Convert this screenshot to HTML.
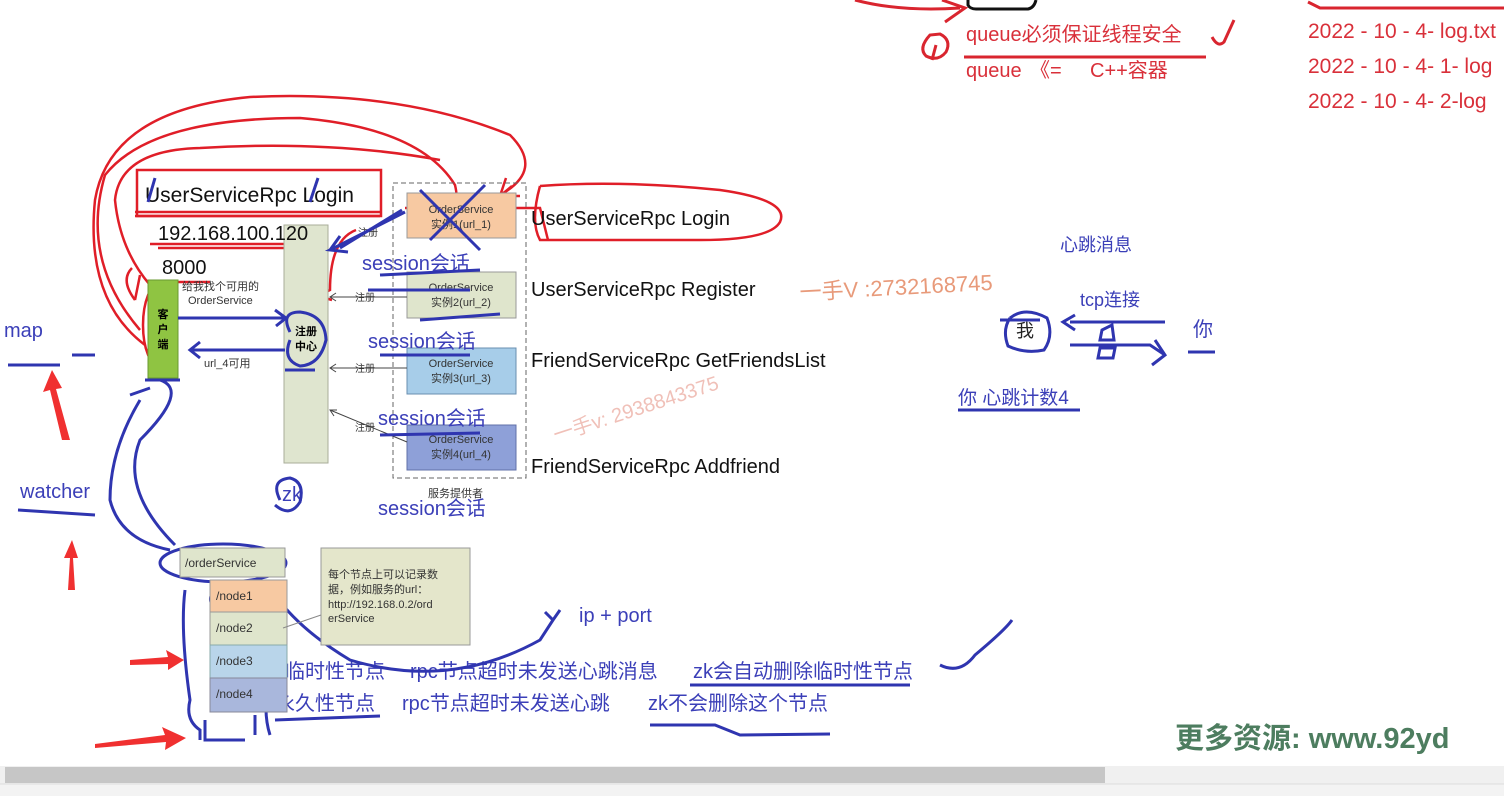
<!DOCTYPE html>
<html><head><meta charset="utf-8"><style>
html,body{margin:0;padding:0;background:#fff;width:1504px;height:796px;overflow:hidden}
svg{display:block}
text{font-family:"Liberation Sans","Noto Sans CJK SC",sans-serif}
</style></head><body>
<svg width="1504" height="796" viewBox="0 0 1504 796" xmlns="http://www.w3.org/2000/svg">
<rect width="1504" height="796" fill="#fff"/>
<path d="M968 0 L968 5 Q970 9 976 9 L1028 9 Q1034 8 1036 0" fill="none" stroke="#111" stroke-width="3"/>
<path d="M855 0 Q900 12 960 8 M942 0 L965 8 L945 22" fill="none" stroke="#d9252f" stroke-width="3"/>
<path d="M930 35 Q918 48 926 56 Q938 62 946 52 Q952 40 940 34 Z M936 45 L932 60" fill="none" stroke="#d9252f" stroke-width="3"/>
<text x="966" y="41" font-size="20" fill="#d9303a">queue必须保证线程安全</text>
<line x1="964" y1="57" x2="1206" y2="57" stroke="#d9252f" stroke-width="3"/>
<text x="966" y="77" font-size="20" fill="#d9303a">queue</text>
<text x="1030" y="77" font-size="20" fill="#d9303a">《=</text>
<text x="1090" y="77" font-size="20" fill="#d9303a">C++容器</text>
<path d="M1212 37 Q1218 48 1224 42 L1234 20" fill="none" stroke="#d9252f" stroke-width="3"/>
<path d="M1308 2 L1320 8 L1504 8" fill="none" stroke="#d9252f" stroke-width="3"/>
<text x="1308" y="38" font-size="21" fill="#d9303a">2022 - 10 - 4- log.txt</text>
<text x="1308" y="73" font-size="21" fill="#d9303a">2022 - 10 - 4- 1- log</text>
<text x="1308" y="108" font-size="21" fill="#d9303a">2022 - 10 - 4- 2-log</text>

<g fill="none" stroke="#e01e28" stroke-width="2.5">
<path d="M145 345 Q85 300 95 200 Q110 110 250 97 Q400 90 510 135 Q545 170 500 195"/>
<path d="M140 330 Q80 260 105 175 Q150 118 300 118 Q420 128 455 185 Q458 198 455 200"/>
<path d="M150 285 Q120 250 115 200 Q120 150 200 148 Q330 140 440 160"/>
<path d="M520 196 L500 196 L506 178 M500 196 L512 186"/>
<rect x="137" y="170" width="244" height="46"/>
<path d="M135 212 L382 212 M135 216 L380 216 M150 244 L320 244 M158 248 L318 248"/>
<path d="M160 282 L210 282"/>
<path d="M540 186 Q620 180 720 190 Q790 200 780 222 Q770 240 700 240 L540 240 Q530 222 540 186"/>
<path d="M135 300 Q120 280 132 268 M135 300 L140 275"/>
<ellipse cx="160" cy="325" rx="17" ry="42"/>
<path d="M356 230 Q330 240 330 290 L318 296 L332 300"/>
<path d="M405 208 L540 208 L548 240"/>
</g>

<rect x="284" y="225" width="44" height="238" fill="#dfe5cf" stroke="#a8ad9a"/>
<text x="306" y="335" font-size="11" font-weight="bold" text-anchor="middle">注册</text>
<text x="306" y="350" font-size="11" font-weight="bold" text-anchor="middle">中心</text>
<rect x="148" y="280" width="30" height="98" fill="#8fc442" stroke="#6a9a30"/>
<text x="163" y="318" font-size="11" font-weight="bold" text-anchor="middle">客</text>
<text x="163" y="333" font-size="11" font-weight="bold" text-anchor="middle">户</text>
<text x="163" y="348" font-size="11" font-weight="bold" text-anchor="middle">端</text>

<rect x="393" y="183" width="133" height="295" fill="none" stroke="#666" stroke-dasharray="5,3"/>
<text x="428" y="497" font-size="11" fill="#333">服务提供者</text>
<g font-size="11" text-anchor="middle" fill="#333">
<rect x="407" y="193" width="109" height="45" fill="#f7c9a2" stroke="#999"/>
<text x="461" y="213">OrderService</text><text x="461" y="228">实例1(url_1)</text>
<rect x="407" y="272" width="109" height="46" fill="#dfe5cc" stroke="#999"/>
<text x="461" y="291">OrderService</text><text x="461" y="306">实例2(url_2)</text>
<rect x="407" y="348" width="109" height="46" fill="#a7cde9" stroke="#6a8fb0"/>
<text x="461" y="367">OrderService</text><text x="461" y="382">实例3(url_3)</text>
<rect x="407" y="425" width="109" height="45" fill="#8ea0d8" stroke="#6070a8"/>
<text x="461" y="443">OrderService</text><text x="461" y="458">实例4(url_4)</text>
</g>
<g stroke="#444" fill="none" stroke-width="1">
<path d="M407 297 L330 297 M336 293 L330 297 L336 301"/>
<path d="M407 368 L330 368 M336 364 L330 368 L336 372"/>
<path d="M407 442 L330 410 M337 410 L330 410 L334 416"/>
</g>
<g font-size="10" fill="#333"><text x="355" y="301">注册</text><text x="355" y="372">注册</text><text x="355" y="431">注册</text><text x="358" y="236">注册</text></g>

<text x="182" y="290" font-size="11" fill="#333">给我找个可用的</text>
<text x="188" y="304" font-size="11" fill="#333">OrderService</text>
<text x="204" y="367" font-size="11" fill="#333">url_4可用</text>

<text x="145" y="202" font-size="21" fill="#111">UserServiceRpc Login</text>
<text x="158" y="240" font-size="20" fill="#111">192.168.100.120</text>
<text x="162" y="274" font-size="20" fill="#111">8000</text>
<g font-size="20" fill="#111">
<text x="531" y="225">UserServiceRpc Login</text>
<text x="531" y="296">UserServiceRpc Register</text>
<text x="531" y="367">FriendServiceRpc GetFriendsList</text>
<text x="531" y="473">FriendServiceRpc Addfriend</text>
</g>

<g font-size="20" fill="#3b3fb8">
<text x="362" y="270">session会话</text>
<text x="368" y="348">session会话</text>
<text x="378" y="425">session会话</text>
<text x="378" y="515">session会话</text>
<text x="4" y="337">map</text>
<text x="20" y="498">watcher</text>
<text x="1060" y="251" font-size="18">心跳消息</text>
<text x="1080" y="306" font-size="18">tcp连接</text>
<text x="1016" y="337" font-size="18" fill="#222">我</text>
<text x="1193" y="336" font-size="20">你</text>
<text x="958" y="404" font-size="19">你 心跳计数4</text>
<text x="579" y="622" font-size="20">ip + port</text>
<text x="282" y="501" font-size="20">zk</text>
<text x="285" y="678">临时性节点</text>
<text x="410" y="678">rpc节点超时未发送心跳消息</text>
<text x="693" y="678">zk会自动删除临时性节点</text>
<text x="275" y="710">永久性节点</text>
<text x="402" y="710">rpc节点超时未发送心跳</text>
<text x="648" y="710">zk不会删除这个节点</text>
</g>
<text x="800" y="300" font-size="22" fill="#e89a7a" transform="rotate(-3 800 300)">一手V :2732168745</text>
<text x="556" y="442" font-size="20" fill="#f0c0b8" transform="rotate(-18 556 442)">一手v: 2938843375</text>

<g fill="none" stroke="#2f35b0" stroke-width="3">
<path d="M148 202 L155 178 M310 202 L318 178"/>
<path d="M420 190 L480 250 M485 185 L430 240"/>
<path d="M405 212 L330 250 L348 252 M330 250 L340 236"/>
<path d="M402 210 L340 248"/>
<path d="M368 290 L470 290 M420 320 L500 314"/>
<path d="M178 318 L285 318 M275 310 L286 318 L276 326"/>
<path d="M285 350 L192 350 M200 342 L190 350 L200 358"/>
<path d="M290 332 Q280 312 300 312 Q325 315 326 340 Q320 365 300 366 Q282 360 290 340"/>
<path d="M145 380 L180 380 M285 370 L315 370"/>
<path d="M280 500 Q270 480 290 478 Q305 482 300 502 Q290 518 275 505"/>
<path d="M140 400 Q110 450 110 500 Q120 540 170 550 M130 395 L150 388 M160 380 Q190 390 140 440 Q120 490 175 545"/>
<ellipse cx="223" cy="563" rx="63" ry="19"/>
<path d="M185 590 Q180 630 190 700 Q185 720 200 730 L200 740 M205 720 L205 740 L245 740 M255 715 L255 735 M270 680 Q262 710 270 735"/>
<path d="M212 605 Q205 590 230 588 Q260 590 258 600 Q250 610 215 608"/>
<path d="M275 595 Q300 630 350 660 Q450 690 540 640 L553 620 M545 612 L553 620 L560 610"/>
<path d="M225 650 L250 680 M250 650 L228 682"/>
<path d="M275 720 L380 716 M650 725 L715 725 L740 735 L830 734 M690 685 L910 685"/>
<path d="M8 365 L60 365 M72 355 L95 355 M18 510 L95 515 M380 275 L480 270 M380 355 L470 355 M380 435 L480 433"/>
<path d="M940 665 Q960 675 975 655 Q1005 630 1012 620"/>
<path d="M1010 318 Q1025 306 1047 318 Q1054 336 1044 350 Q1025 354 1008 346 Q1002 330 1010 318"/>
<path d="M1070 322 L1165 322 M1075 315 L1063 322 L1075 330 M1070 345 L1150 345 L1165 355 M1155 340 L1165 355 L1152 365"/>
<path d="M1100 340 L1114 340 L1112 325 L1102 330 Z M1100 348 L1115 348 L1113 358 L1098 358 Z"/>
<path d="M1188 352 L1215 352 M958 410 L1080 410 M1000 320 L1040 320"/>
</g>

<g fill="#f03030">
<path d="M70 440 L62 440 L50 390 L43 392 L52 370 L62 388 L56 389 Z"/>
<path d="M75 590 L68 590 L70 558 L64 558 L72 540 L78 558 L73 558 Z"/>
<path d="M130 665 L130 660 L168 657 L166 650 L184 660 L168 670 L168 664 Z"/>
<path d="M95 748 L95 744 L165 735 L162 727 L186 738 L165 750 L166 742 Z"/>
</g>

<rect x="180" y="548" width="105" height="29" fill="#dfe5cc" stroke="#999"/>
<text x="185" y="567" font-size="12" fill="#333">/orderService</text>
<rect x="210" y="580" width="77" height="32" fill="#f7c9a2" stroke="#999"/>
<rect x="210" y="612" width="77" height="33" fill="#dfe5cc" stroke="#999"/>
<rect x="210" y="645" width="77" height="33" fill="#b9d5ea" stroke="#8aa"/>
<rect x="210" y="678" width="77" height="34" fill="#a9b7dc" stroke="#889"/>
<g font-size="12" fill="#333"><text x="216" y="600">/node1</text><text x="216" y="632">/node2</text><text x="216" y="665">/node3</text><text x="216" y="698">/node4</text></g>
<rect x="321" y="548" width="149" height="97" fill="#e4e6cb" stroke="#999"/>
<line x1="283" y1="628" x2="321" y2="615" stroke="#888"/>
<g font-size="11" fill="#333"><text x="328" y="578">每个节点上可以记录数</text><text x="328" y="593">据，例如服务的url：</text><text x="328" y="608">http://192.168.0.2/ord</text><text x="328" y="622">erService</text></g>

<text x="1175" y="748" font-size="29" font-weight="bold" fill="#4d7d5f" font-family="'Liberation Mono','Noto Serif CJK SC',serif">更多资源: www.92yd</text>

<rect x="0" y="766" width="1504" height="18" fill="#f0f0f0"/>
<rect x="5" y="767" width="1100" height="16" fill="#c6c6c6"/>
<rect x="0" y="784" width="1504" height="12" fill="#f3f3f3"/>
<line x1="0" y1="784" x2="1504" y2="784" stroke="#ddd"/>
</svg>
</body></html>
